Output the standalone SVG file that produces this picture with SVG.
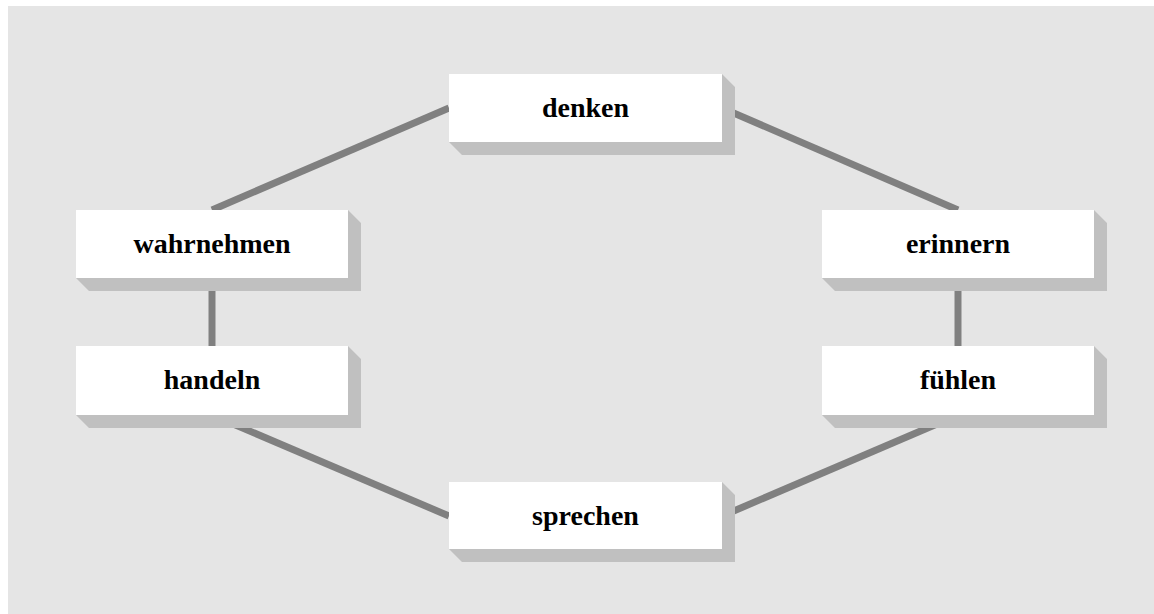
<svg xmlns="http://www.w3.org/2000/svg" width="1154" height="614" viewBox="0 0 1154 614">
  <style>
    .box { fill: #ffffff; }
    .depth { fill: #c0c0c0; }
    .label { font-family: "Liberation Serif", "Times New Roman", serif; font-weight: bold; font-size: 28px; fill: #000000; text-anchor: middle; }
    .link { stroke: #808080; stroke-width: 7; fill: none; }
  </style>
  <rect x="8" y="6" width="1146" height="608" fill="#e5e5e5"/>

  <g id="connectors">
    <line class="link" x1="212" y1="210" x2="449" y2="108"/>
    <line class="link" x1="722" y1="108" x2="958" y2="210"/>
    <line class="link" x1="212" y1="278" x2="212" y2="346"/>
    <line class="link" x1="958" y1="278" x2="958" y2="346"/>
    <line class="link" x1="212" y1="415" x2="449" y2="516"/>
    <line class="link" x1="958" y1="415" x2="722" y2="516"/>
  </g>

  <g id="node-denken">
    <polygon class="depth" points="449,142 722,142 722,74 735,87 735,155 462,155"/>
    <rect class="box" x="449" y="74" width="273" height="68"/>
    <text class="label" x="585.5" y="117">denken</text>
  </g>

  <g id="node-wahrnehmen">
    <polygon class="depth" points="76,278 348,278 348,210 361,223 361,291 89,291"/>
    <rect class="box" x="76" y="210" width="272" height="68"/>
    <text class="label" x="212" y="253">wahrnehmen</text>
  </g>

  <g id="node-erinnern">
    <polygon class="depth" points="822,278 1094,278 1094,210 1107,223 1107,291 835,291"/>
    <rect class="box" x="822" y="210" width="272" height="68"/>
    <text class="label" x="958" y="253">erinnern</text>
  </g>

  <g id="node-handeln">
    <polygon class="depth" points="76,415 348,415 348,346 361,359 361,428 89,428"/>
    <rect class="box" x="76" y="346" width="272" height="69"/>
    <text class="label" x="212" y="389">handeln</text>
  </g>

  <g id="node-fuehlen">
    <polygon class="depth" points="822,415 1094,415 1094,346 1107,359 1107,428 835,428"/>
    <rect class="box" x="822" y="346" width="272" height="69"/>
    <text class="label" x="958" y="389">fühlen</text>
  </g>

  <g id="node-sprechen">
    <polygon class="depth" points="449,549 722,549 722,482 735,495 735,562 462,562"/>
    <rect class="box" x="449" y="482" width="273" height="67"/>
    <text class="label" x="585.5" y="525">sprechen</text>
  </g>
</svg>
